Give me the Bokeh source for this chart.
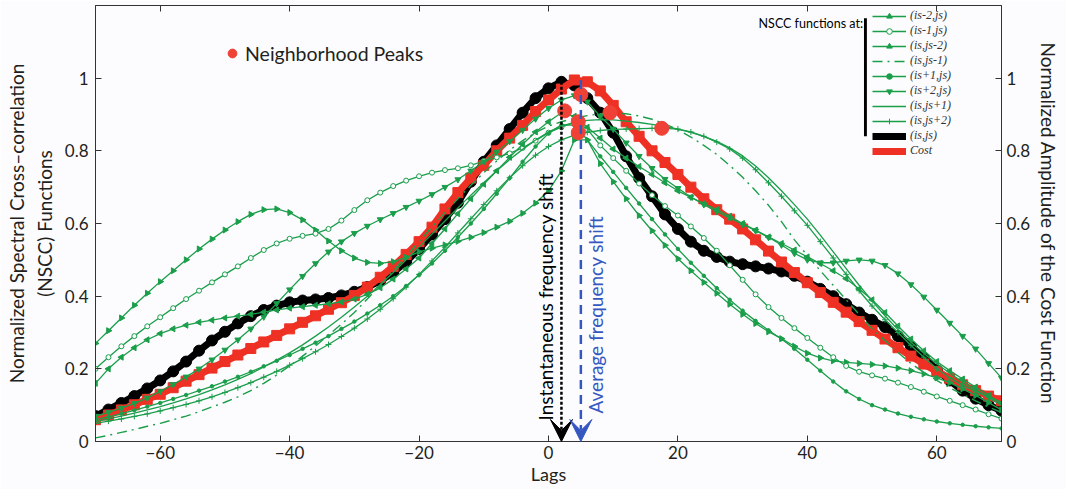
import math
from bokeh.plotting import figure
from bokeh.models import (Range1d, LinearAxis, FixedTicker, Legend, LegendItem,
                          Label, Arrow, VeeHead, BoxAnnotation)
from bokeh.embed import file_html
from bokeh.resources import INLINE

# ---------------- data ----------------
lags = list(range(-70, 71, 2))

nscc_is_js = [0.070, 0.088, 0.106, 0.125, 0.146, 0.168, 0.193, 0.220,
              0.250, 0.278, 0.302, 0.325, 0.345, 0.362, 0.374, 0.383,
              0.388, 0.391, 0.395, 0.402, 0.412, 0.425, 0.442, 0.465,
              0.495, 0.530, 0.570, 0.612, 0.657, 0.715, 0.770, 0.815,
              0.860, 0.905, 0.945, 0.972, 0.990, 0.980, 0.945, 0.905,
              0.850, 0.785, 0.725, 0.675, 0.625, 0.585, 0.550, 0.525,
              0.508, 0.495, 0.488, 0.482, 0.476, 0.468, 0.456, 0.440,
              0.420, 0.400, 0.378, 0.355, 0.335, 0.315, 0.290, 0.262,
              0.230, 0.197, 0.168, 0.140, 0.118, 0.100, 0.085]

cost = [0.060, 0.073, 0.087, 0.101, 0.116, 0.130, 0.148, 0.166,
        0.184, 0.202, 0.220, 0.238, 0.256, 0.274, 0.292, 0.310,
        0.328, 0.346, 0.364, 0.382, 0.402, 0.425, 0.452, 0.482,
        0.515, 0.550, 0.590, 0.640, 0.685, 0.725, 0.760, 0.800,
        0.835, 0.870, 0.908, 0.940, 0.970, 0.995, 0.990, 0.965,
        0.925, 0.880, 0.840, 0.800, 0.768, 0.735, 0.700, 0.668,
        0.638, 0.612, 0.585, 0.555, 0.524, 0.494, 0.465, 0.437,
        0.410, 0.383, 0.356, 0.330, 0.306, 0.282, 0.258, 0.235,
        0.213, 0.193, 0.174, 0.156, 0.140, 0.125, 0.112]

nscc_is_m2 = [0.270, 0.305, 0.340, 0.375, 0.408, 0.440, 0.470, 0.500,
              0.530, 0.557, 0.582, 0.605, 0.625, 0.638, 0.640, 0.630,
              0.610, 0.582, 0.552, 0.525, 0.505, 0.493, 0.490, 0.495,
              0.507, 0.522, 0.532, 0.541, 0.551, 0.562, 0.575, 0.590,
              0.606, 0.628, 0.656, 0.690, 0.745, 0.830, 0.830, 0.765,
              0.715, 0.668, 0.622, 0.580, 0.540, 0.503, 0.470, 0.438,
              0.408, 0.378, 0.350, 0.325, 0.302, 0.283, 0.262, 0.243,
              0.230, 0.222, 0.218, 0.215, 0.212, 0.208, 0.202, 0.195,
              0.186, 0.175, 0.162, 0.145, 0.127, 0.107, 0.087]

nscc_is_m1 = [0.200, 0.232, 0.262, 0.290, 0.317, 0.342, 0.367, 0.392,
              0.415, 0.438, 0.460, 0.482, 0.505, 0.527, 0.545, 0.558,
              0.566, 0.572, 0.585, 0.608, 0.637, 0.664, 0.685, 0.703,
              0.718, 0.730, 0.740, 0.747, 0.752, 0.760, 0.772, 0.782,
              0.793, 0.808, 0.828, 0.850, 0.865, 0.878, 0.860, 0.815,
              0.780, 0.745, 0.710, 0.678, 0.648, 0.622, 0.592, 0.560,
              0.525, 0.485, 0.445, 0.405, 0.370, 0.340, 0.312, 0.285,
              0.258, 0.232, 0.208, 0.192, 0.182, 0.173, 0.162, 0.150,
              0.137, 0.124, 0.112, 0.100, 0.088, 0.075, 0.063]

nscc_js_m2 = [0.160, 0.200, 0.232, 0.258, 0.280, 0.297, 0.310, 0.320,
              0.328, 0.334, 0.340, 0.345, 0.350, 0.356, 0.362, 0.367,
              0.371, 0.375, 0.379, 0.384, 0.392, 0.405, 0.423, 0.447,
              0.475, 0.505, 0.545, 0.585, 0.627, 0.668, 0.708, 0.745,
              0.782, 0.818, 0.852, 0.880, 0.905, 0.895, 0.865, 0.835,
              0.805, 0.780, 0.757, 0.735, 0.712, 0.690, 0.672, 0.655,
              0.638, 0.620, 0.600, 0.582, 0.563, 0.545, 0.527, 0.508,
              0.490, 0.470, 0.448, 0.420, 0.390, 0.355, 0.318, 0.282,
              0.250, 0.220, 0.195, 0.172, 0.150, 0.127, 0.105]

nscc_js_m1 = [0.010, 0.017, 0.025, 0.033, 0.042, 0.050, 0.060, 0.070,
              0.082, 0.095, 0.108, 0.123, 0.140, 0.160, 0.183, 0.208,
              0.235, 0.263, 0.293, 0.323, 0.355, 0.392, 0.430, 0.470,
              0.510, 0.550, 0.590, 0.630, 0.668, 0.705, 0.740, 0.772,
              0.802, 0.828, 0.850, 0.868, 0.880, 0.890, 0.897, 0.902,
              0.904, 0.902, 0.896, 0.887, 0.874, 0.858, 0.838, 0.815,
              0.790, 0.760, 0.727, 0.690, 0.650, 0.605, 0.555, 0.512,
              0.470, 0.430, 0.390, 0.350, 0.310, 0.278, 0.245, 0.215,
              0.190, 0.168, 0.148, 0.130, 0.112, 0.095, 0.080]

nscc_is_p1 = [0.060, 0.068, 0.077, 0.086, 0.096, 0.106, 0.117, 0.128,
              0.140, 0.152, 0.165, 0.178, 0.192, 0.207, 0.222, 0.238,
              0.255, 0.272, 0.290, 0.310, 0.330, 0.352, 0.375, 0.400,
              0.428, 0.458, 0.490, 0.525, 0.562, 0.600, 0.640, 0.682,
              0.725, 0.770, 0.812, 0.848, 0.872, 0.870, 0.830, 0.785,
              0.742, 0.698, 0.655, 0.612, 0.570, 0.530, 0.492, 0.456,
              0.422, 0.390, 0.360, 0.332, 0.306, 0.282, 0.255, 0.225,
              0.195, 0.165, 0.138, 0.117, 0.100, 0.088, 0.077, 0.068,
              0.061, 0.055, 0.050, 0.046, 0.042, 0.039, 0.036]

nscc_is_p2 = [0.070, 0.080, 0.092, 0.105, 0.120, 0.138, 0.157, 0.178,
              0.200, 0.225, 0.252, 0.280, 0.310, 0.343, 0.380, 0.418,
              0.455, 0.490, 0.522, 0.550, 0.573, 0.593, 0.611, 0.628,
              0.645, 0.662, 0.680, 0.700, 0.721, 0.745, 0.770, 0.797,
              0.826, 0.857, 0.888, 0.917, 0.940, 0.952, 0.935, 0.895,
              0.860, 0.822, 0.785, 0.752, 0.722, 0.697, 0.673, 0.652,
              0.633, 0.615, 0.598, 0.580, 0.562, 0.541, 0.518, 0.500,
              0.492, 0.492, 0.497, 0.500, 0.497, 0.485, 0.462, 0.432,
              0.398, 0.362, 0.326, 0.290, 0.255, 0.215, 0.175]

nscc_js_p1 = [0.055, 0.062, 0.070, 0.078, 0.087, 0.096, 0.106, 0.117,
              0.129, 0.142, 0.156, 0.171, 0.187, 0.205, 0.224, 0.244,
              0.266, 0.290, 0.315, 0.342, 0.370, 0.400, 0.432, 0.465,
              0.500, 0.535, 0.571, 0.607, 0.643, 0.678, 0.712, 0.745,
              0.776, 0.804, 0.830, 0.852, 0.868, 0.878, 0.884, 0.886,
              0.885, 0.882, 0.878, 0.873, 0.867, 0.860, 0.851, 0.840,
              0.826, 0.808, 0.786, 0.758, 0.726, 0.690, 0.652, 0.612,
              0.568, 0.522, 0.476, 0.430, 0.387, 0.346, 0.308, 0.274,
              0.243, 0.214, 0.188, 0.164, 0.142, 0.120, 0.100]

nscc_js_p2 = [0.050, 0.056, 0.062, 0.069, 0.076, 0.084, 0.093, 0.102,
              0.112, 0.123, 0.135, 0.148, 0.162, 0.177, 0.193, 0.210,
              0.228, 0.247, 0.267, 0.289, 0.312, 0.337, 0.364, 0.393,
              0.425, 0.460, 0.497, 0.535, 0.574, 0.613, 0.652, 0.690,
              0.726, 0.759, 0.788, 0.812, 0.830, 0.843, 0.851, 0.856,
              0.859, 0.860, 0.861, 0.862, 0.862, 0.860, 0.852, 0.840,
              0.824, 0.805, 0.780, 0.748, 0.712, 0.675, 0.635, 0.595,
              0.550, 0.505, 0.460, 0.415, 0.373, 0.335, 0.300, 0.265,
              0.232, 0.200, 0.175, 0.155, 0.138, 0.122, 0.108]

peak_lags = [2.5, 5.0, 4.6, 4.6, 9.5, 17.5]
peak_vals = [0.91, 0.955, 0.88, 0.85, 0.905, 0.862]

inst_shift = 2     # lag of the (is,js) peak
avg_shift = 5      # lag of the cost-function peak

x_ticks = [-60, -40, -20, 0, 20, 40, 60]
y_ticks = [0, 0.2, 0.4, 0.6, 0.8, 1.0]
y_tick_labels = ["0", "0.2", "0.4", "0.6", "0.8", "1"]

green_labels = ["(is-2,js)", "(is-1,js)", "(is,js-2)", "(is,js-1)",
                "(is+1,js)", "(is+2,js)", "(is,js+1)", "(is,js+2)"]
green_series = [nscc_is_m2, nscc_is_m1, nscc_js_m2, nscc_js_m1,
                nscc_is_p1, nscc_is_p2, nscc_js_p1, nscc_js_p2]

# ---------------- styles ----------------
FONT = "Lato"
GREEN = "#1a9e4a"
RED = "#ee3124"
BLUE = "#3558c0"
TXT = "#231f20"
BG = "#fcfcfe"
YMAX = 1.2

marker_styles = [
    dict(marker="triangle", angle=-math.pi / 2, size=6, fill=GREEN),
    dict(marker="circle", angle=0.0, size=5, fill=BG),
    dict(marker="triangle", angle=math.pi / 2, size=6, fill=GREEN),
    None,
    dict(marker="circle", angle=0.0, size=3.5, fill=GREEN),
    dict(marker="inverted_triangle", angle=0.0, size=6, fill=GREEN),
    None,
    dict(marker="cross", angle=0.0, size=6, fill=GREEN),
]

p = figure(width=1066, height=489, x_range=Range1d(-70, 70),
           y_range=Range1d(0, YMAX), output_backend="svg",
           toolbar_location=None, min_border_left=95, min_border_right=65,
           min_border_top=5, min_border_bottom=48)
p.background_fill_color = BG
p.border_fill_color = BG
p.outline_line_color = "#333333"
p.outline_line_width = 1
p.xgrid.visible = False
p.ygrid.visible = False
p.extra_y_ranges = {"cost": Range1d(0, YMAX)}


def style_axis(ax):
    ax.major_tick_in = 6
    ax.major_tick_out = 0
    ax.minor_tick_line_color = None
    ax.axis_line_color = "#333333"
    ax.major_tick_line_color = "#333333"
    ax.major_label_text_font = FONT
    ax.major_label_text_font_size = "17px"
    ax.major_label_text_color = TXT
    ax.axis_label_text_font = FONT
    ax.axis_label_text_font_size = "19px"
    ax.axis_label_text_font_style = "normal"
    ax.axis_label_text_color = TXT


xa = p.xaxis[0]
xa.ticker = FixedTicker(ticks=x_ticks)
xa.axis_label = "Lags"
style_axis(xa)
xa.axis_label_text_font_size = "18px"
xa.major_label_standoff = 4
xa.axis_label_standoff = 1

ya = p.yaxis[0]
ya.ticker = FixedTicker(ticks=y_ticks)
ya.major_label_overrides = dict(zip(y_ticks, y_tick_labels))
ya.axis_label = "Normalized Spectral Cross\u2013correlation\n(NSCC) Functions"
style_axis(ya)
ya.major_label_standoff = 7
ya.axis_label_standoff = 6

ra = LinearAxis(y_range_name="cost", ticker=FixedTicker(ticks=y_ticks),
                axis_label="Normalized Amplitude of the Cost Function")
ra.major_label_overrides = dict(zip(y_ticks, y_tick_labels))
style_axis(ra)
ra.major_label_standoff = 5
ra.axis_label_standoff = 4
p.add_layout(ra, "right")

ta = LinearAxis(ticker=FixedTicker(ticks=x_ticks))
style_axis(ta)
ta.major_label_text_font_size = "1px"
ta.major_label_text_color = None
ta.major_label_standoff = 0
p.add_layout(ta, "above")

# ---------------- data glyphs ----------------
r_black_line = p.line(lags, nscc_is_js, line_color="black", line_width=7)
r_black_pts = p.scatter(lags, nscc_is_js, marker="circle", size=11,
                        fill_color="black", line_color="black")

r_red_line = p.line(lags, cost, line_color=RED, line_width=7, y_range_name="cost")
r_red_pts = p.scatter(lags, cost, marker="square", size=10, fill_color=RED,
                      line_color=RED, y_range_name="cost")

legend_items = []
for lab, ys, ms in zip(green_labels, green_series, marker_styles):
    if lab == "(is,js-1)":
        rl = p.line(lags, ys, line_color=GREEN, line_width=1.4, line_dash="10 5 2 5")
    else:
        rl = p.line(lags, ys, line_color=GREEN, line_width=1.3)
    rends = [rl]
    if ms is not None:
        rs = p.scatter(lags, ys, marker=ms["marker"], angle=ms["angle"],
                       size=ms["size"], fill_color=ms["fill"], line_color=GREEN,
                       line_width=1)
        rends.append(rs)
    legend_items.append(LegendItem(label=lab, renderers=rends))

legend_items.append(LegendItem(label="(is,js)", renderers=[r_black_line, r_black_pts]))
legend_items.append(LegendItem(label="Cost", renderers=[r_red_line, r_red_pts]))

r_peaks = p.scatter(peak_lags, peak_vals, marker="circle", size=14,
                    fill_color="#ef4136", line_color="#ef4136")

# ---------------- frequency-shift markers ----------------
p.add_layout(Arrow(x_start=inst_shift, y_start=max(nscc_is_js), x_end=inst_shift, y_end=0,
                   line_color="black", line_width=2.5, line_dash="3 2",
                   end=VeeHead(size=22, fill_color="black", line_color="black")))
p.add_layout(Arrow(x_start=avg_shift, y_start=max(cost), x_end=avg_shift, y_end=0,
                   line_color=BLUE, line_width=2.5, line_dash="9 6",
                   end=VeeHead(size=22, fill_color=BLUE, line_color=BLUE)))
p.add_layout(Label(x=inst_shift, y=0.058, text="Instantaneous frequency shift",
                   angle=math.pi / 2, text_baseline="bottom", text_align="left",
                   x_offset=-4, text_font=FONT, text_font_size="19px",
                   text_color="black"))
p.add_layout(Label(x=avg_shift, y=0.077, text="Average frequency shift",
                   angle=math.pi / 2, text_baseline="top", text_align="left",
                   x_offset=3, text_font=FONT, text_font_size="19px",
                   text_color=BLUE))

# ---------------- legends ----------------
leg = Legend(items=legend_items, location=(777, 283), orientation="vertical")
leg.background_fill_alpha = 0
leg.border_line_color = None
leg.padding = 2
leg.margin = 0
leg.spacing = 0
leg.label_text_font = "Liberation Serif"
leg.label_text_font_style = "italic"
leg.label_text_font_size = "12px"
leg.label_text_color = "#333333"
leg.label_height = 14
leg.glyph_height = 14
leg.glyph_width = 34
leg.label_standoff = 4
p.add_layout(leg)

p.add_layout(Label(x=48.6, y=1.151, text="NSCC functions at:", text_align="right",
                   text_baseline="middle", text_font=FONT, text_font_size="12.5px",
                   text_color="black"))
p.add_layout(BoxAnnotation(left=48.75, right=49.2, bottom=0.84, top=1.165,
                           fill_color="black", fill_alpha=1, line_color=None))

peak_leg = Legend(items=[LegendItem(label="Neighborhood Peaks", renderers=[r_peaks])],
                  location=(126, 375))
peak_leg.background_fill_alpha = 0
peak_leg.border_line_color = None
peak_leg.padding = 0
peak_leg.margin = 0
peak_leg.label_text_font = FONT
peak_leg.label_text_font_size = "19.5px"
peak_leg.label_text_color = TXT
peak_leg.glyph_width = 22
peak_leg.glyph_height = 26
peak_leg.label_height = 26
peak_leg.label_standoff = 2
p.add_layout(peak_leg)

open("out.html", "w").write(file_html(p, INLINE))
